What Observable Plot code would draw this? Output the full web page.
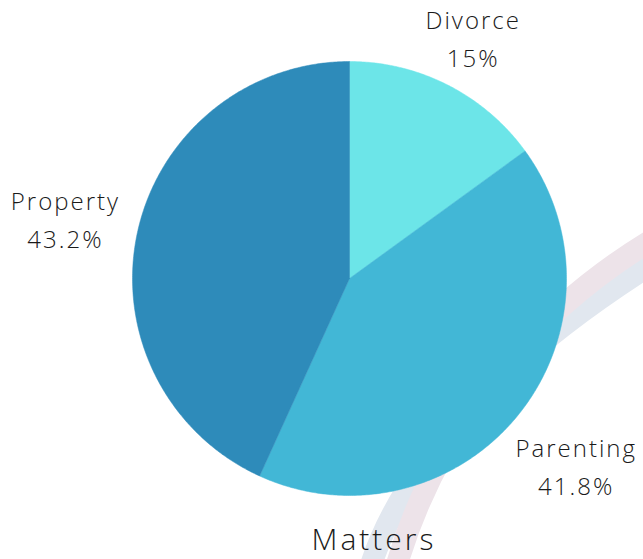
<!DOCTYPE html>
<html>
<head>
<meta charset="utf-8">
<script src="https://cdn.jsdelivr.net/npm/d3@7"></script>
<script src="https://cdn.jsdelivr.net/npm/@observablehq/plot@0.6"></script>
<style>
  html, body { margin: 0; padding: 0; background: #fff; }
  #wrap { position: relative; width: 643px; height: 559px; overflow: hidden; }
  #bg { position: absolute; left: 0; top: 0; }
  #chart { position: absolute; left: 0; top: 0; }
  figure { margin: 0; }
  #chart svg text { letter-spacing: 2px; }
  figcaption {
    font-family: "Open Sans", sans-serif; font-weight: 300;
    font-size: 30px; color: #1a1a1a; text-align: center;
    width: 643px; padding-left: 105px; box-sizing: border-box;
    line-height: 30px; margin-top: 12px; letter-spacing: 3px;
  }
</style>
</head>
<body>
<div id="wrap">
  <svg id="bg" width="643" height="559">
    <path d="M368,575 C400,460 515,350 655,262" fill="none" stroke="#e1e7ef" stroke-width="22"/>
    <path d="M394,575 C425,460 505,328 655,238" fill="none" stroke="#ede3e9" stroke-width="22"/>
  </svg>
  <div id="chart"></div>
</div>
<script>
const categories = ["Divorce", "Parenting", "Property"];
const values = [15, 41.8, 43.2];
const labels = ["15%", "41.8%", "43.2%"];
const colors = ["#6ce5e8", "#42b7d6", "#2e8bba"];

const W = 643, H = 512;
const cx = 349, cy = 278, R = 217, GAP = 16;
const FS = 24, LH = 1.6, LS = 2;
const FONT = "300 " + FS + "px 'Open Sans'";

const ctx = document.createElement("canvas").getContext("2d");
ctx.font = FONT;
const tw = s => ctx.measureText(s).width + LS * s.length;

const data = categories.map((c, i) => ({name: c, value: values[i], label: labels[i]}));
const arcs = d3.pie().sort(null).value(d => d.value).startAngle(0).endAngle(2 * Math.PI)(data);

const poly = [];
arcs.forEach(a => {
  poly.push({name: a.data.name, x: cx, y: cy});
  const n = Math.max(2, Math.ceil((a.endAngle - a.startAngle) / (Math.PI / 360)));
  for (let k = 0; k <= n; k++) {
    const t = a.startAngle + (a.endAngle - a.startAngle) * k / n;
    poly.push({name: a.data.name, x: cx + R * Math.sin(t), y: cy - R * Math.cos(t)});
  }
  poly.push({name: a.data.name, x: cx, y: cy});
});

const lab = arcs.map(a => {
  const m = (a.startAngle + a.endAngle) / 2;
  const w = Math.max(tw(a.data.name), tw(a.data.label));
  const h = 40;
  const ext = Math.abs(Math.sin(m)) * w / 2 + Math.abs(Math.cos(m)) * h / 2;
  const r = R + GAP + ext;
  return {name: a.data.name, text: a.data.name + "\n" + a.data.label,
          x: cx + r * Math.sin(m), y: cy - r * Math.cos(m)};
});

const chart = Plot.plot({
  width: W, height: H,
  margin: 0,
  style: {background: "transparent", overflow: "visible"},
  x: {domain: [0, W], range: [0, W], axis: null},
  y: {domain: [0, H], range: [0, H], axis: null},
  color: {domain: categories, range: colors},
  caption: "Matters",
  marks: [
    Plot.line(poly, {x: "x", y: "y", z: "name", fill: "name", stroke: "name", strokeWidth: 0.5, curve: "linear"}),
    Plot.text(lab, {x: "x", y: "y", text: "text", fontSize: FS, lineHeight: LH, fill: "#1a1a1a",
      fontFamily: "Open Sans", fontWeight: 300, textAnchor: "middle"})
  ]
});
document.getElementById("chart").appendChild(chart);
</script>
</body>
</html>
